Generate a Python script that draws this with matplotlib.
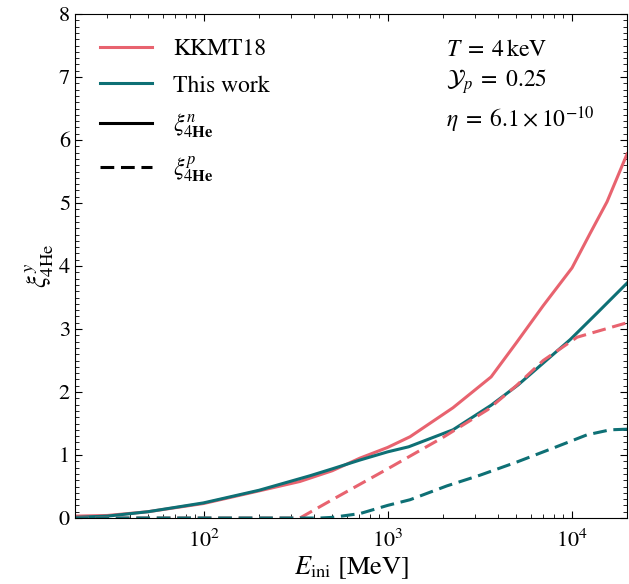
import matplotlib
matplotlib.use("Agg")

import matplotlib.pyplot as plt
from matplotlib.ticker import LogLocator, MultipleLocator, NullFormatter

# E_ini [MeV] / xi values
kk_n_E = [20, 30, 50, 100, 200, 334, 500, 707, 1000, 1324, 2265, 3650, 5000, 7000, 10040, 12600, 15560, 20000]
kk_n = [0.03, 0.04, 0.10, 0.23, 0.43, 0.58, 0.75, 0.95, 1.12, 1.29, 1.75, 2.24, 2.78, 3.37, 3.97, 4.52, 5.02, 5.78]

tw_n_E = [20, 30, 50, 100, 200, 378, 500, 707, 1000, 1300, 2265, 3650, 5100, 9800, 13700, 20000]
tw_n = [0.01, 0.03, 0.10, 0.24, 0.44, 0.67, 0.78, 0.92, 1.05, 1.13, 1.40, 1.79, 2.11, 2.83, 3.25, 3.73]

kk_p_E = [20, 334, 500, 1000, 2000, 3500, 5000, 7000, 10700, 20000]
kk_p = [0.0, 0.0, 0.29, 0.78, 1.28, 1.72, 2.10, 2.50, 2.87, 3.10]

tw_p_E = [20, 430, 500, 707, 1000, 1324, 2100, 3180, 5050, 7930, 12100, 16200, 20000]
tw_p = [0.0, 0.0, 0.01, 0.07, 0.20, 0.29, 0.51, 0.68, 0.89, 1.11, 1.32, 1.40, 1.41]

PINK = "#E8636F"
TEAL = "#0E7075"

plt.rcParams["font.family"] = "STIXGeneral"
plt.rcParams["mathtext.fontset"] = "stix"


def main() -> None:
    fig = plt.figure(figsize=(6.29, 5.84), dpi=100)
    ax = fig.add_axes([0.119, 0.113, 0.878, 0.863])

    lw = 2.2
    dash = (0, (4.5, 2.2))
    ax.plot(kk_n_E, kk_n, color=PINK, lw=lw)
    ax.plot(tw_n_E, tw_n, color=TEAL, lw=lw)
    ax.plot(kk_p_E, kk_p, color=PINK, lw=lw, ls=dash)
    ax.plot(tw_p_E, tw_p, color=TEAL, lw=lw, ls=dash)

    ax.set_xscale("log")
    ax.set_xlim(20, 2e4)
    ax.set_ylim(0, 8)

    ax.yaxis.set_major_locator(MultipleLocator(1))
    ax.yaxis.set_minor_locator(MultipleLocator(0.1))
    ax.xaxis.set_minor_locator(LogLocator(base=10, subs=range(2, 10), numticks=20))
    ax.xaxis.set_minor_formatter(NullFormatter())
    ax.tick_params(which="both", direction="in", top=True, right=True, labelsize=16)
    ax.tick_params(which="major", length=5, width=0.8)
    ax.tick_params(which="minor", length=3, width=0.6)
    ax.tick_params(axis="x", pad=8)

    ax.set_xlabel(r"$E_{\rm ini}$ [MeV]", fontsize=19, labelpad=2)
    ax.set_ylabel(r"$\xi^{y}_{4\mathrm{He}}$", fontsize=19, labelpad=2)

    # legend: colours for the two works, line style for n / p
    h1, = ax.plot([], [], color=PINK, lw=lw, label="KKMT18")
    h2, = ax.plot([], [], color=TEAL, lw=lw, label="This work")
    h3, = ax.plot([], [], color="black", lw=lw, label=r"$\xi^{n}_{4\mathbf{He}}$")
    h4, = ax.plot([], [], color="black", lw=lw, ls=dash, label=r"$\xi^{p}_{4\mathbf{He}}$")
    ax.legend(handles=[h1, h2, h3, h4], loc="upper left", frameon=False, fontsize=17,
              handlelength=2.2, labelspacing=0.62, borderaxespad=0.65, handletextpad=0.9)

    ax.text(0.672, 0.95, r"$T\;=\;4\,\mathrm{keV}$" "\n" r"$\mathcal{Y}_p\;=\;0.25$" "\n"
            r"$\eta\;=\;6.1\times10^{-10}$",
            transform=ax.transAxes, ha="left", va="top", fontsize=17, linespacing=1.35)

    fig.savefig("out.png", dpi=100)
    plt.close(fig)


if __name__ == "__main__":
    main()
